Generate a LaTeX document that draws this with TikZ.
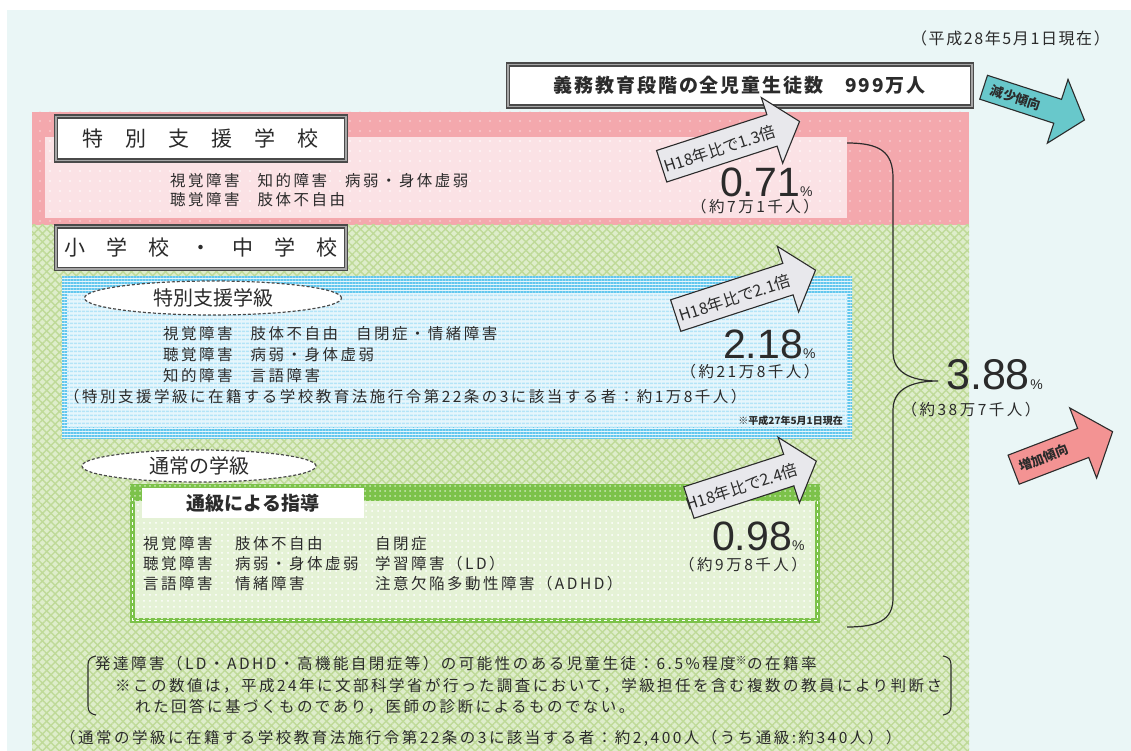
\documentclass[tikz,border=0pt]{standalone}
\usepackage{fontspec}
\setmainfont{Noto Sans CJK JP}
\newfontfamily\jpls{Noto Sans CJK JP}[LetterSpace=16]
\newfontfamily\jpmid{Noto Sans CJK JP}[LetterSpace=10]
\newfontfamily\numfont{Liberation Sans}
\usetikzlibrary{shapes.arrows,shapes.geometric,patterns.meta}
\definecolor{bgc}{HTML}{EAF6F6}
\definecolor{pinkout}{HTML}{F4A8AD}
\definecolor{pinkin}{HTML}{FBE2E5}
\definecolor{grnbase}{HTML}{DEEDCB}
\definecolor{grnline}{HTML}{BFDA98}
\definecolor{bluebase}{HTML}{E6F6FC}
\definecolor{bluedark}{HTML}{62C7EE}
\definecolor{bluelight}{HTML}{B3E4F7}
\definecolor{boxgreen}{HTML}{7CC24A}
\definecolor{boxin}{HTML}{E5F2D6}
\definecolor{txt}{HTML}{2B2B2B}
\definecolor{frame}{HTML}{4A4A4A}
\definecolor{teal}{HTML}{68C8CB}
\definecolor{salmon}{HTML}{F39393}
\definecolor{arrgray}{HTML}{E8E8EC}
\tikzset{
  jt/.style={font=\jpls\fontsize{15.5}{18}\selectfont, text=txt, inner sep=0pt, anchor=west},
  dbox/.style={draw=frame, line width=1.4pt, double=black!35, double distance=1.6pt, fill=white, inner sep=0pt},
  bubble/.style={ellipse, draw=frame, line width=1.2pt, dash pattern=on 3pt off 2pt, fill=white, inner sep=0pt, font=\fontsize{20}{22}\selectfont, text=txt},
  bigarrow/.style={single arrow, draw=txt, line width=1.1pt, inner xsep=0pt, single arrow tip angle=100, single arrow head indent=0pt},
  arrtext/.style={font=\fontsize{16}{18}\selectfont, text=txt, inner sep=0pt},
  bignum/.style={font=\numfont\fontsize{41}{41}\selectfont, text=txt, inner sep=0pt, anchor=base east},
  pct/.style={font=\numfont\fontsize{14}{14}\selectfont, text=txt, inner sep=0pt, anchor=base west},
  cnt/.style={font=\jpls\fontsize{15.5}{18}\selectfont, text=txt, inner sep=0pt},
}
\begin{document}
\begin{tikzpicture}[x=1pt,y=-1pt]
\useasboundingbox (0,0) rectangle (1131,751);
\fill[white] (0,0) rectangle (1131,751);
\fill[bgc] (7,10) rectangle (1131,751);

% pink region
\fill[pinkout] (32,112) rectangle (969,225);
\fill[pattern={Dots[distance=10pt,radius=0.9pt]}, pattern color=white!55!pinkout] (32,112) rectangle (969,225);
\fill[pinkin] (45,137) rectangle (847,218);
\fill[pattern={Dots[distance=10pt,radius=0.9pt]}, pattern color=white] (45,137) rectangle (847,218);

% green region
\fill[grnbase] (32,225) rectangle (969,751);
\fill[pattern={Hatch[angle=45,distance=6pt,line width=1.4pt]}, pattern color=grnline] (32,225) rectangle (969,751);

% blue region
\fill[bluebase] (62,276) rectangle (852,438);
\fill[pattern={Lines[angle=0,distance=3pt,line width=1.6pt]}, pattern color=bluedark] (62,276) rectangle (852,438);
\fill[bluebase] (67,293) rectangle (847,427);
\fill[pattern={Lines[angle=0,distance=4pt,line width=1.6pt]}, pattern color=bluelight] (67,293) rectangle (847,427);

% green box
\fill[boxgreen] (130,484) rectangle (820,623);
\fill[pattern={Dots[distance=5pt,radius=1pt]}, pattern color=white!60!boxgreen] (130,484) rectangle (820,501);
\fill[boxin] (135,501) rectangle (815,618);
\fill[pattern={Dots[distance=6pt,radius=1pt]}, pattern color=white] (135,501) rectangle (815,618);
\draw[white, line width=1pt, dash pattern=on 3pt off 3pt] (132.5,498) -- (132.5,620.5) -- (817.5,620.5) -- (817.5,498);

% top note
\node[font=\jpmid\fontsize{16}{18}\selectfont, text=txt, inner sep=0pt, anchor=east] (date) at (1110,38) {（平成28年5月1日現在）};

% title box
\node[dbox, minimum width=464pt, minimum height=42pt, anchor=north west,
      font=\jpmid\bfseries\fontsize{19}{21}\selectfont, text=txt] (total) at (507,64)
      {義務教育段階の全児童生徒数\hspace{22pt}999万人};

% trend arrows
\node[bigarrow, fill=teal, rotate=-18, minimum height=106pt, inner ysep=12pt,
      single arrow head extend=21pt] (dec) at (1029,102) {};
\node[arrtext, font=\bfseries\fontsize{13}{15}\selectfont, rotate=-18] (declbl) at (1016,98) {減少傾向};
\node[bigarrow, fill=salmon, rotate=21, minimum height=106pt, inner ysep=15pt,
      single arrow head extend=22pt] (inc) at (1057,453) {};
\node[arrtext, font=\bfseries\fontsize{13}{15}\selectfont, rotate=21] (inclbl) at (1044,458) {増加傾向};

% special support school
\node[dbox, minimum width=290pt, minimum height=44pt, anchor=north west,
      font=\fontsize{21}{23}\selectfont, text=txt] (sch) at (55,116)
      {特\hspace{22pt}別\hspace{22pt}支\hspace{22pt}援\hspace{22pt}学\hspace{22pt}校};
\node[jt] (sch1) at (170,181) {視覚障害\hspace{18pt}知的障害\hspace{18pt}病弱・身体虚弱};
\node[jt] (sch2) at (170,200) {聴覚障害\hspace{18pt}肢体不自由};

\node[bigarrow, fill=arrgray, rotate=18, minimum height=145pt, inner ysep=16pt,
      single arrow head extend=18pt] (a13) at (724,146) {};
\node[arrtext, rotate=18] (a13t) at (720,149) {H18年比で1.3倍};
\node[bignum] (n071) at (800,197) {0.71};
\node[pct] (p071) at (n071.base east) {\%};
\node[cnt] (c071) at (755,207) {（約7万1千人）};

% elementary & junior high
\node[dbox, minimum width=290pt, minimum height=42pt, anchor=north west,
      font=\fontsize{21}{23}\selectfont, text=txt] (esch) at (55,226)
      {小\hspace{21pt}学\hspace{21pt}校\hspace{21pt}・\hspace{21pt}中\hspace{21pt}学\hspace{21pt}校};

% special support class
\node[bubble, minimum width=257pt, minimum height=34pt] (tsg) at (213,298) {特別支援学級};
\node[jt] (b1) at (163,334) {視覚障害\hspace{18pt}肢体不自由\hspace{18pt}自閉症・情緒障害};
\node[jt] (b2) at (163,355) {聴覚障害\hspace{18pt}病弱・身体虚弱};
\node[jt] (b3) at (163,376) {知的障害\hspace{18pt}言語障害};
\node[jt] (b4) at (64,397) {（特別支援学級に在籍する学校教育法施行令第22条の3に該当する者：約1万8千人）};
\node[font=\bfseries\fontsize{10}{12}\selectfont, text=txt, inner sep=0pt, anchor=east] (b5) at (843,421) {※平成27年5月1日現在};

\node[bigarrow, fill=arrgray, rotate=18, minimum height=147pt, inner ysep=16pt,
      single arrow head extend=18pt] (a21) at (739,295) {};
\node[arrtext, rotate=18] (a21t) at (735,298) {H18年比で2.1倍};
\node[bignum] (n218) at (803,358) {2.18};
\node[pct] (p218) at (n218.base east) {\%};
\node[cnt] (c218) at (750,372) {（約21万8千人）};

% regular class
\node[bubble, minimum width=234pt, minimum height=32pt] (tsj) at (199,466) {通常の学級};
\node[fill=white, minimum width=222pt, minimum height=30pt, inner sep=0pt, anchor=north west,
      font=\bfseries\fontsize{19}{22}\selectfont, text=txt] (tkg) at (142,488) {通級による指導};
\node[jt] (g1a) at (143,544) {視覚障害};
\node[jt] (g1b) at (235,544) {肢体不自由};
\node[jt] (g1c) at (375,544) {自閉症};
\node[jt] (g2a) at (143,564) {聴覚障害};
\node[jt] (g2b) at (235,564) {病弱・身体虚弱};
\node[jt] (g2c) at (375,564) {学習障害（LD）};
\node[jt] (g3a) at (143,584) {言語障害};
\node[jt] (g3b) at (235,584) {情緒障害};
\node[jt] (g3c) at (375,584) {注意欠陥多動性障害（ADHD）};

\node[bigarrow, fill=arrgray, rotate=18, minimum height=134pt, inner ysep=16pt,
      single arrow head extend=18pt] (a24) at (746,484) {};
\node[arrtext, rotate=18] (a24t) at (742,487) {H18年比で2.4倍};
\node[bignum] (n098) at (792,550) {0.98};
\node[pct] (p098) at (n098.base east) {\%};
\node[cnt] (c098) at (743,565) {（約9万8千人）};

% big brace
\coordinate (bt) at (847,143);
\coordinate (bp) at (938,381);
\coordinate (bb) at (847,627);
\draw[txt, line width=1.2pt] (bt) .. controls (880,143) and (893,152) .. (893,178)
  -- (893,352) .. controls (893,372) and (910,381) .. (bp)
  .. controls (910,381) and (893,390) .. (893,410)
  -- (893,598) .. controls (893,620) and (878,627) .. (bb);
\node[font=\numfont\fontsize{43}{43}\selectfont, text=txt, inner sep=0pt, anchor=base west] (n388) at (946,389) {3.88};
\node[pct] (p388) at (n388.base east) {\%};
\node[cnt] (c388) at (971,410) {（約38万7千人）};

% bottom notes
\draw[txt, line width=1.1pt] (96,656) .. controls (90,657) and (88,660) .. (88,665) -- (88,706) .. controls (88,711) and (90,714) .. (96,715);
\draw[txt, line width=1.1pt] (943,656) .. controls (949,657) and (951,660) .. (951,665) -- (951,706) .. controls (951,711) and (949,714) .. (943,715);
\node[jt] (n1) at (95,664) {発達障害（LD・ADHD・高機能自閉症等）の可能性のある児童生徒：6.5\%程度\textsuperscript{※}の在籍率};
\node[jt] (n2) at (115,686) {※この数値は，平成24年に文部科学省が行った調査において，学級担任を含む複数の教員により判断さ};
\node[jt] (n3) at (135,707) {れた回答に基づくものであり，医師の診断によるものでない。};
\node[jt] (n4) at (60,738) {（通常の学級に在籍する学校教育法施行令第22条の3に該当する者：約2,400人（うち通級:約340人））};
\end{tikzpicture}
\end{document}
